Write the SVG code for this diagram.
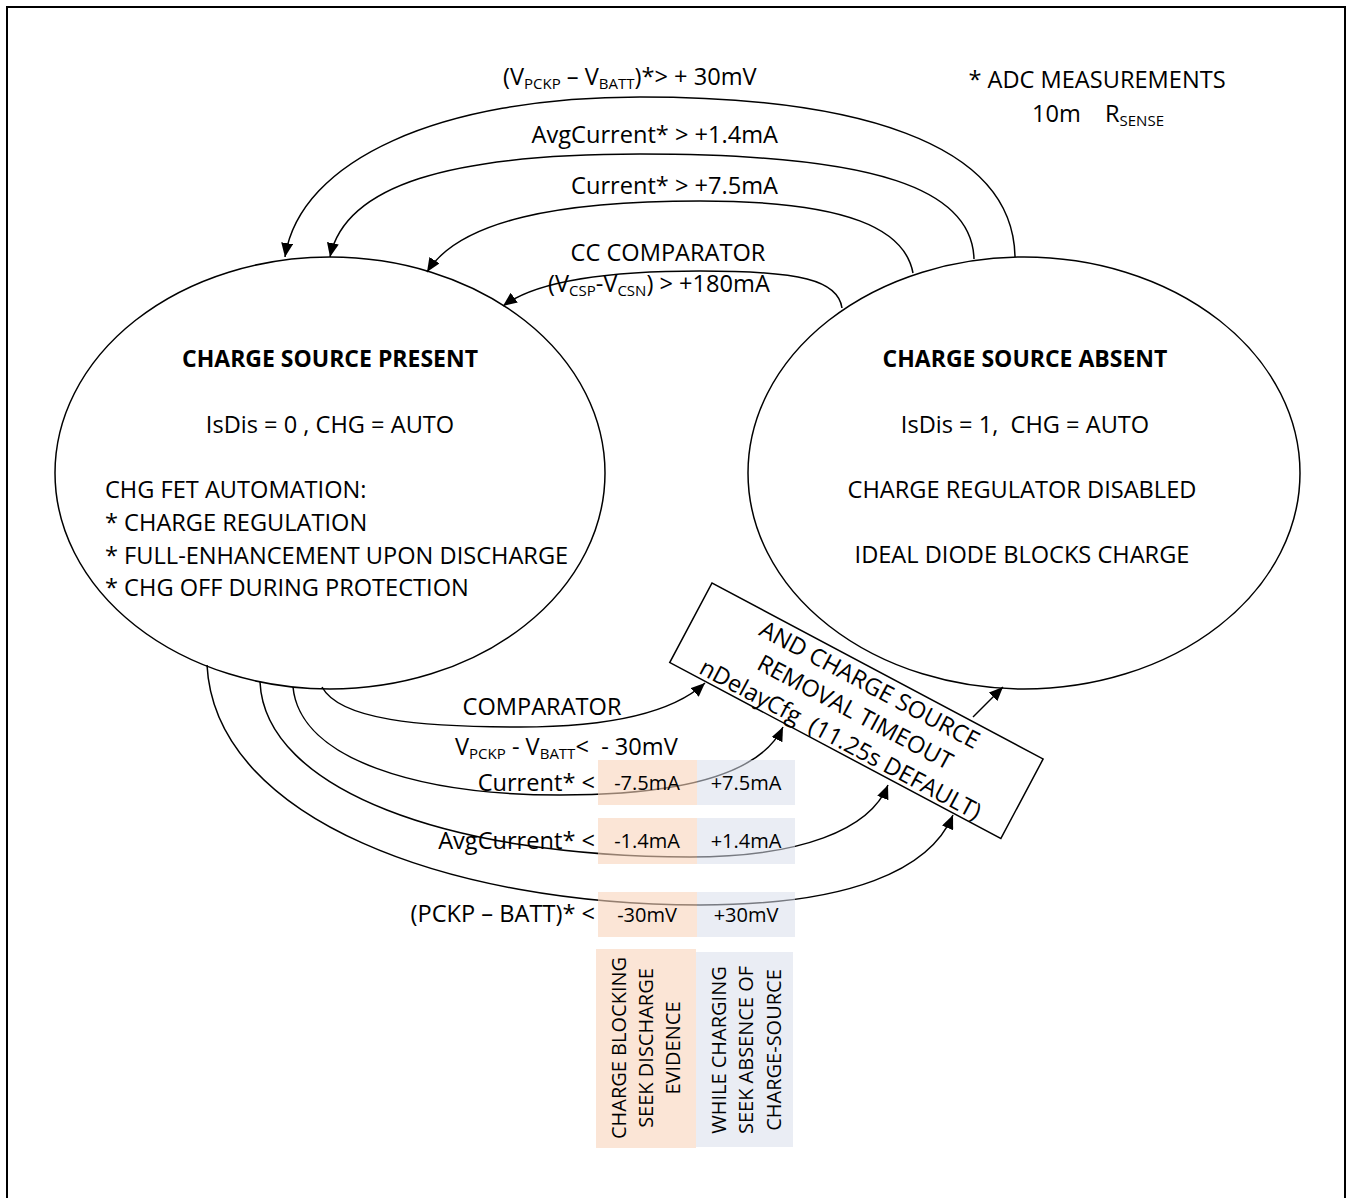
<svg xmlns="http://www.w3.org/2000/svg" width="1351" height="1198" viewBox="0 0 1351 1198">
<style>
.t{font-family:"Open Sans","Liberation Sans",sans-serif;font-size:23.6px;fill:#000}
.s{font-size:20px}
.b{font-weight:bold;font-size:23px}
.sub{font-size:15px}
.ln{fill:none;stroke:#000;stroke-width:1.5}
.node{fill:#fff;stroke:#000;stroke-width:1.5}
.or{fill:#F8D4BB;fill-opacity:0.6}
.bl{fill:#D8DFEB;fill-opacity:0.55}
</style>
<defs>
<marker id="ah" markerUnits="userSpaceOnUse" markerWidth="15" markerHeight="12" refX="14" refY="6" orient="auto">
<path d="M0,0 L14,6 L0,12 z" fill="#000"/>
</marker>
</defs>
<rect x="7" y="7" width="1338" height="1210" fill="#fff" stroke="#000" stroke-width="2"/>

<g id="present">
<ellipse class="node" cx="330" cy="473" rx="275" ry="216"/>
<text class="t b" x="330" y="367" text-anchor="middle">CHARGE SOURCE PRESENT</text>
<text class="t" x="330" y="433" text-anchor="middle">IsDis = 0 , CHG = AUTO</text>
<text class="t" x="105" y="498">CHG FET AUTOMATION:</text>
<text class="t" x="105" y="531">* CHARGE REGULATION</text>
<text class="t" x="105" y="564">* FULL-ENHANCEMENT UPON DISCHARGE</text>
<text class="t" x="105" y="596">* CHG OFF DURING PROTECTION</text>
</g>

<g id="absent">
<ellipse class="node" cx="1024" cy="473" rx="276" ry="216"/>
<text class="t b" x="1025" y="367" text-anchor="middle">CHARGE SOURCE ABSENT</text>
<text class="t" x="1025" y="433" text-anchor="middle" xml:space="preserve">IsDis = 1,  CHG = AUTO</text>
<text class="t" x="1022" y="498" text-anchor="middle">CHARGE REGULATOR DISABLED</text>
<text class="t" x="1022" y="563" text-anchor="middle">IDEAL DIODE BLOCKS CHARGE</text>
</g>

<g id="timeout" transform="translate(712,583) rotate(28)">
<rect class="node" x="0" y="0" width="375" height="90"/>
<text class="t" x="187" y="24" text-anchor="middle">AND CHARGE SOURCE</text>
<text class="t" x="187" y="55" text-anchor="middle">REMOVAL TIMEOUT</text>
<text class="t" x="187" y="86" text-anchor="middle" xml:space="preserve">nDelayCfg  (11.25s DEFAULT)</text>
</g>

<g id="note">
<text class="t" x="1097" y="88" text-anchor="middle">* ADC MEASUREMENTS</text>
<text class="t" x="1032" y="122">10m<tspan x="1105">R</tspan><tspan class="sub" dy="4">SENSE</tspan></text>
</g>

<g id="connectors">
<path class="ln" marker-end="url(#ah)" d="M1015,257 C1013,140 850,97 640,97 C440,97 300,160 285,257"/>
<path class="ln" marker-end="url(#ah)" d="M974,259 C972,190 880,154 640,154 C450,154 345,185 330,257"/>
<path class="ln" marker-end="url(#ah)" d="M913,273 C905,230 850,201 700,201 C560,201 460,220 427,272"/>
<path class="ln" marker-end="url(#ah)" d="M842,308 C838,280 800,271 700,271 C600,271 535,282 503,306"/>
<path class="ln" marker-end="url(#ah)" d="M322,687 C340,720 420,727 520,727 C600,727 670,715 705,683"/>
<path class="ln" marker-end="url(#ah)" d="M293,687 C300,760 420,795 560,795 C680,795 760,775 783,727"/>
<path class="ln" marker-end="url(#ah)" d="M260,682 C265,790 450,857 690,857 C800,857 870,830 888,785"/>
<path class="ln" marker-end="url(#ah)" d="M207,665 C215,820 450,905 700,905 C850,905 930,870 953,815"/>
<path class="ln" marker-end="url(#ah)" d="M973,717 L1003,687"/>
</g>

<g id="labels">
<text class="t" x="503" y="85">(V<tspan class="sub" dy="4">PCKP</tspan><tspan dy="-4"> – V</tspan><tspan class="sub" dy="4">BATT</tspan><tspan dy="-4">)*&gt; + 30mV</tspan></text>
<text class="t" x="778" y="143" text-anchor="end">AvgCurrent* &gt; +1.4mA</text>
<text class="t" x="778" y="194" text-anchor="end">Current* &gt; +7.5mA</text>
<text class="t" x="668" y="261" text-anchor="middle">CC COMPARATOR</text>
<text class="t" x="548" y="292">(V<tspan class="sub" dy="4">CSP</tspan><tspan dy="-4">-V</tspan><tspan class="sub" dy="4">CSN</tspan><tspan dy="-4">) &gt; +180mA</tspan></text>
<text class="t" x="542" y="715" text-anchor="middle">COMPARATOR</text>
<text class="t" x="455" y="755" xml:space="preserve">V<tspan class="sub" dy="4">PCKP</tspan><tspan dy="-4"> - V</tspan><tspan class="sub" dy="4">BATT</tspan><tspan dy="-4">&lt;  - 30mV</tspan></text>
<text class="t" x="595" y="791" text-anchor="end">Current* &lt;</text>
<text class="t" x="595" y="849" text-anchor="end">AvgCurrent* &lt;</text>
<text class="t" x="595" y="922" text-anchor="end">(PCKP – BATT)* &lt;</text>
</g>

<g id="thresholds">
<rect class="or" x="598" y="760" width="99" height="45"/>
<rect class="bl" x="697" y="760" width="98" height="45"/>
<rect class="or" x="598" y="818" width="99" height="46"/>
<rect class="bl" x="697" y="818" width="98" height="46"/>
<rect class="or" x="598" y="892" width="99" height="45"/>
<rect class="bl" x="697" y="892" width="98" height="45"/>
<text class="t s" x="647" y="790" text-anchor="middle">-7.5mA</text>
<text class="t s" x="746" y="790" text-anchor="middle">+7.5mA</text>
<text class="t s" x="647" y="848" text-anchor="middle">-1.4mA</text>
<text class="t s" x="746" y="848" text-anchor="middle">+1.4mA</text>
<text class="t s" x="647" y="922" text-anchor="middle">-30mV</text>
<text class="t s" x="746" y="922" text-anchor="middle">+30mV</text>
</g>

<g id="legend">
<rect class="or" x="596" y="949" width="100" height="199"/>
<rect class="bl" x="696" y="952" width="97" height="195"/>
<text class="t s" transform="translate(626,1048) rotate(-90)" text-anchor="middle">CHARGE BLOCKING</text>
<text class="t s" transform="translate(653,1048) rotate(-90)" text-anchor="middle">SEEK DISCHARGE</text>
<text class="t s" transform="translate(680,1048) rotate(-90)" text-anchor="middle">EVIDENCE</text>
<text class="t s" transform="translate(726,1050) rotate(-90)" text-anchor="middle">WHILE CHARGING</text>
<text class="t s" transform="translate(753,1050) rotate(-90)" text-anchor="middle">SEEK ABSENCE OF</text>
<text class="t s" transform="translate(781,1050) rotate(-90)" text-anchor="middle">CHARGE-SOURCE</text>
</g>
</svg>
